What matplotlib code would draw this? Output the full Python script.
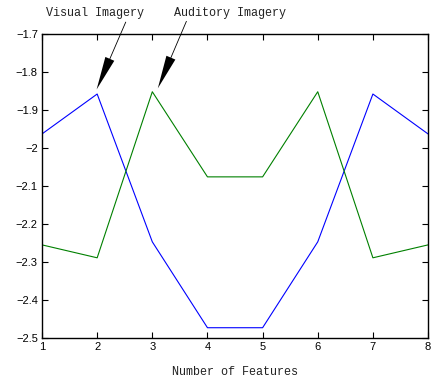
import matplotlib
matplotlib.use("Agg")
import matplotlib.pyplot as plt

features = [1, 2, 3, 4, 5, 6, 7, 8]
visual = [-1.963, -1.858, -2.247, -2.473, -2.473, -2.247, -1.858, -1.963]
auditory = [-2.255, -2.289, -1.852, -2.076, -2.076, -1.852, -2.289, -2.255]
yticks = [-2.5, -2.4, -2.3, -2.2, -2.1, -2.0, -1.9, -1.8, -1.7]
ytick_labels = ["\u22122.5", "\u22122.4", "\u22122.3", "\u22122.2", "\u22122.1", "\u22122",
                "\u22121.9", "\u22121.8", "\u22121.7"]
label_font = "Liberation Mono"

fig = plt.figure(figsize=(4.35, 3.81), dpi=100)
ax = fig.add_axes([0.0966, 0.1129, 0.8874, 0.7979])

ax.plot(features, visual, color=(0, 0, 1), lw=0.8)
ax.plot(features, auditory, color=(0, 0.5, 0), lw=0.8)

ax.set_xlim(1, 8)
ax.set_ylim(-2.5, -1.7)
ax.set_xticks(features)
ax.set_xticklabels([str(v) for v in features], family="Liberation Sans", fontsize=8)
ax.set_yticks(yticks)
ax.set_yticklabels(ytick_labels, family="Liberation Sans", fontsize=8)
ax.tick_params(direction="in", length=4, width=0.8, top=True, right=True, pad=3)
for s in ax.spines.values():
    s.set_linewidth(1.0)
    s.set_color("black")

ax.set_xlabel("Number of Features", family=label_font, fontsize=8.5, labelpad=10,
              color="#222222")

arrow_kw = dict(facecolor="black", edgecolor="black", lw=0, width=0.6,
                headwidth=7, headlength=24, shrink=0)
ax.annotate("", xy=(1.99, -1.846), xytext=(2.52, -1.668), arrowprops=arrow_kw,
            annotation_clip=False)
ax.annotate("", xy=(3.10, -1.843), xytext=(3.62, -1.666), arrowprops=arrow_kw,
            annotation_clip=False)
ax.text(1.961, -1.644, "Visual Imagery", family=label_font, fontsize=8.5,
        ha="center", va="center", clip_on=False, color="#222222")
ax.text(4.41, -1.644, "Auditory Imagery", family=label_font, fontsize=8.5,
        ha="center", va="center", clip_on=False, color="#222222")

fig.savefig("out.png", dpi=100)
